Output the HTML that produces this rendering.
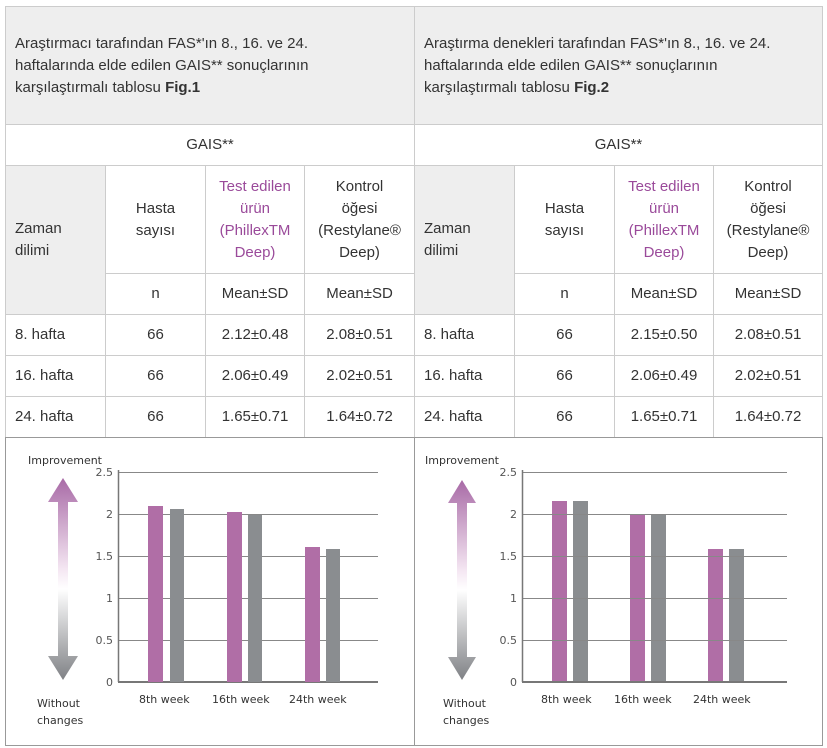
<!DOCTYPE html>
<html><head><meta charset="utf-8"><style>
body{margin:0;width:827px;height:748px;background:#fff;font-family:"Liberation Sans",sans-serif;position:relative;overflow:hidden}
.c{position:absolute;box-sizing:border-box;border:1px solid #ccc;font-size:15px;color:#333;display:flex;align-items:center;justify-content:center;text-align:center;line-height:22px}
.g{background:#eee}
.l{justify-content:flex-start;text-align:left;padding-left:9px}
.p{color:#9a4a9a}
svg text{font-family:"DejaVu Sans","Liberation Sans",sans-serif}
</style></head><body>
<div class="c g l" style="left:5px;top:6px;width:410px;height:119px"><span>Araştırmacı tarafından FAS*'ın 8., 16. ve 24.<br>haftalarında elde edilen GAIS** sonuçlarının<br>karşılaştırmalı tablosu <b>Fig.1</b></span></div>
<div class="c g l" style="left:414px;top:6px;width:409px;height:119px"><span>Araştırma denekleri tarafından FAS*'ın 8., 16. ve 24.<br>haftalarında elde edilen GAIS** sonuçlarının<br>karşılaştırmalı tablosu <b>Fig.2</b></span></div>
<div class="c" style="left:5px;top:124px;width:410px;height:42px">GAIS**</div>
<div class="c" style="left:414px;top:124px;width:409px;height:42px">GAIS**</div>

<div class="c g l" style="left:5px;top:165px;width:101px;height:150px"><span>Zaman<br>dilimi</span></div>
<div class="c" style="left:105px;top:165px;width:101px;height:109px"><span>Hasta<br>sayısı</span></div>
<div class="c p" style="left:205px;top:165px;width:100px;height:109px"><span>Test edilen<br>ürün<br>(PhillexTM<br>Deep)</span></div>
<div class="c" style="left:304px;top:165px;width:111px;height:109px"><span>Kontrol<br>öğesi<br>(Restylane®<br>Deep)</span></div>
<div class="c" style="left:105px;top:273px;width:101px;height:42px">n</div>
<div class="c" style="left:205px;top:273px;width:100px;height:42px">Mean±SD</div>
<div class="c" style="left:304px;top:273px;width:111px;height:42px">Mean±SD</div>

<div class="c g l" style="left:414px;top:165px;width:101px;height:150px"><span>Zaman<br>dilimi</span></div>
<div class="c" style="left:514px;top:165px;width:101px;height:109px"><span>Hasta<br>sayısı</span></div>
<div class="c p" style="left:614px;top:165px;width:100px;height:109px"><span>Test edilen<br>ürün<br>(PhillexTM<br>Deep)</span></div>
<div class="c" style="left:713px;top:165px;width:110px;height:109px"><span>Kontrol<br>öğesi<br>(Restylane®<br>Deep)</span></div>
<div class="c" style="left:514px;top:273px;width:101px;height:42px">n</div>
<div class="c" style="left:614px;top:273px;width:100px;height:42px">Mean±SD</div>
<div class="c" style="left:713px;top:273px;width:110px;height:42px">Mean±SD</div>

<div class="c l" style="left:5px;top:314px;width:101px;height:42px">8. hafta</div>
<div class="c" style="left:105px;top:314px;width:101px;height:42px">66</div>
<div class="c" style="left:205px;top:314px;width:100px;height:42px">2.12±0.48</div>
<div class="c" style="left:304px;top:314px;width:111px;height:42px">2.08±0.51</div>
<div class="c l" style="left:414px;top:314px;width:101px;height:42px">8. hafta</div>
<div class="c" style="left:514px;top:314px;width:101px;height:42px">66</div>
<div class="c" style="left:614px;top:314px;width:100px;height:42px">2.15±0.50</div>
<div class="c" style="left:713px;top:314px;width:110px;height:42px">2.08±0.51</div>

<div class="c l" style="left:5px;top:355px;width:101px;height:42px">16. hafta</div>
<div class="c" style="left:105px;top:355px;width:101px;height:42px">66</div>
<div class="c" style="left:205px;top:355px;width:100px;height:42px">2.06±0.49</div>
<div class="c" style="left:304px;top:355px;width:111px;height:42px">2.02±0.51</div>
<div class="c l" style="left:414px;top:355px;width:101px;height:42px">16. hafta</div>
<div class="c" style="left:514px;top:355px;width:101px;height:42px">66</div>
<div class="c" style="left:614px;top:355px;width:100px;height:42px">2.06±0.49</div>
<div class="c" style="left:713px;top:355px;width:110px;height:42px">2.02±0.51</div>

<div class="c l" style="left:5px;top:396px;width:101px;height:42px">24. hafta</div>
<div class="c" style="left:105px;top:396px;width:101px;height:42px">66</div>
<div class="c" style="left:205px;top:396px;width:100px;height:42px">1.65±0.71</div>
<div class="c" style="left:304px;top:396px;width:111px;height:42px">1.64±0.72</div>
<div class="c l" style="left:414px;top:396px;width:101px;height:42px">24. hafta</div>
<div class="c" style="left:514px;top:396px;width:101px;height:42px">66</div>
<div class="c" style="left:614px;top:396px;width:100px;height:42px">1.65±0.71</div>
<div class="c" style="left:713px;top:396px;width:110px;height:42px">1.64±0.72</div>

<svg style="position:absolute;left:0;top:0" width="827" height="748">
<defs><linearGradient id="ar" x1="0" y1="0" x2="0" y2="1">
<stop offset="0" stop-color="#a86aa6"/><stop offset="0.45" stop-color="#f4e6f2"/><stop offset="0.55" stop-color="#fff"/><stop offset="1" stop-color="#7f8185"/></linearGradient></defs>
<rect x="5.5" y="437.5" width="817" height="308" fill="none" stroke="#999"/>
<line x1="414.5" y1="437" x2="414.5" y2="746" stroke="#999"/>
<g>
<g stroke="#888" stroke-width="1">
<line x1="118" y1="472.5" x2="378" y2="472.5"/><line x1="118" y1="514.5" x2="378" y2="514.5"/><line x1="118" y1="556.5" x2="378" y2="556.5"/><line x1="118" y1="598.5" x2="378" y2="598.5"/><line x1="118" y1="640.5" x2="378" y2="640.5"/>
</g>
<line x1="118" y1="682" x2="378" y2="682" stroke="#777" stroke-width="2"/>
<line x1="118.5" y1="470" x2="118.5" y2="682" stroke="#777" stroke-width="1.5"/>
<g font-size="11" fill="#555" text-anchor="end"><text x="113" y="476">2.5</text><text x="113" y="518">2</text><text x="113" y="560">1.5</text><text x="113" y="602">1</text><text x="113" y="644">0.5</text><text x="113" y="686">0</text></g>
<polygon points="63,478 78,502 68,502 68,656 78,656 63,680 48,656 58,656 58,502 48,502" fill="url(#ar)"/>
<g font-size="11" fill="#333"><text x="28" y="464">Improvement</text><text x="37" y="707">Without</text><text x="37" y="724">changes</text>
<text x="139" y="703">8th week</text><text x="212" y="703">16th week</text><text x="289" y="703">24th week</text></g>
</g>
<g fill="#b06ea6"><rect x="148" y="506" width="15" height="176"/><rect x="227" y="512" width="15" height="170"/><rect x="305" y="547" width="15" height="135"/>
<rect x="552" y="501" width="15" height="181"/><rect x="630" y="514" width="15" height="168"/><rect x="708" y="549" width="15" height="133"/></g>
<g fill="#8a8d90"><rect x="170" y="509" width="14" height="173"/><rect x="248" y="515" width="14" height="167"/><rect x="326" y="549" width="14" height="133"/>
<rect x="573" y="501" width="15" height="181"/><rect x="651" y="514" width="15" height="168"/><rect x="729" y="549" width="15" height="133"/></g>
<g transform="translate(404,0)">
<g stroke="#888" stroke-width="1">
<line x1="118" y1="472.5" x2="383" y2="472.5"/><line x1="118" y1="514.5" x2="383" y2="514.5"/><line x1="118" y1="556.5" x2="383" y2="556.5"/><line x1="118" y1="598.5" x2="383" y2="598.5"/><line x1="118" y1="640.5" x2="383" y2="640.5"/>
</g>
<line x1="118" y1="682" x2="383" y2="682" stroke="#777" stroke-width="2"/>
<line x1="118.5" y1="470" x2="118.5" y2="682" stroke="#777" stroke-width="1.5"/>
<g font-size="11" fill="#555" text-anchor="end"><text x="113" y="476">2.5</text><text x="113" y="518">2</text><text x="113" y="560">1.5</text><text x="113" y="602">1</text><text x="113" y="644">0.5</text><text x="113" y="686">0</text></g>
<polygon points="58,480 72,503 63,503 63,657 72,657 58,680 44,657 53,657 53,503 44,503" fill="url(#ar)"/>
<g font-size="11" fill="#333"><text x="21" y="464">Improvement</text><text x="39" y="707">Without</text><text x="39" y="724">changes</text>
<text x="137" y="703">8th week</text><text x="210" y="703">16th week</text><text x="289" y="703">24th week</text></g>
</g>
</svg>
</body></html>
